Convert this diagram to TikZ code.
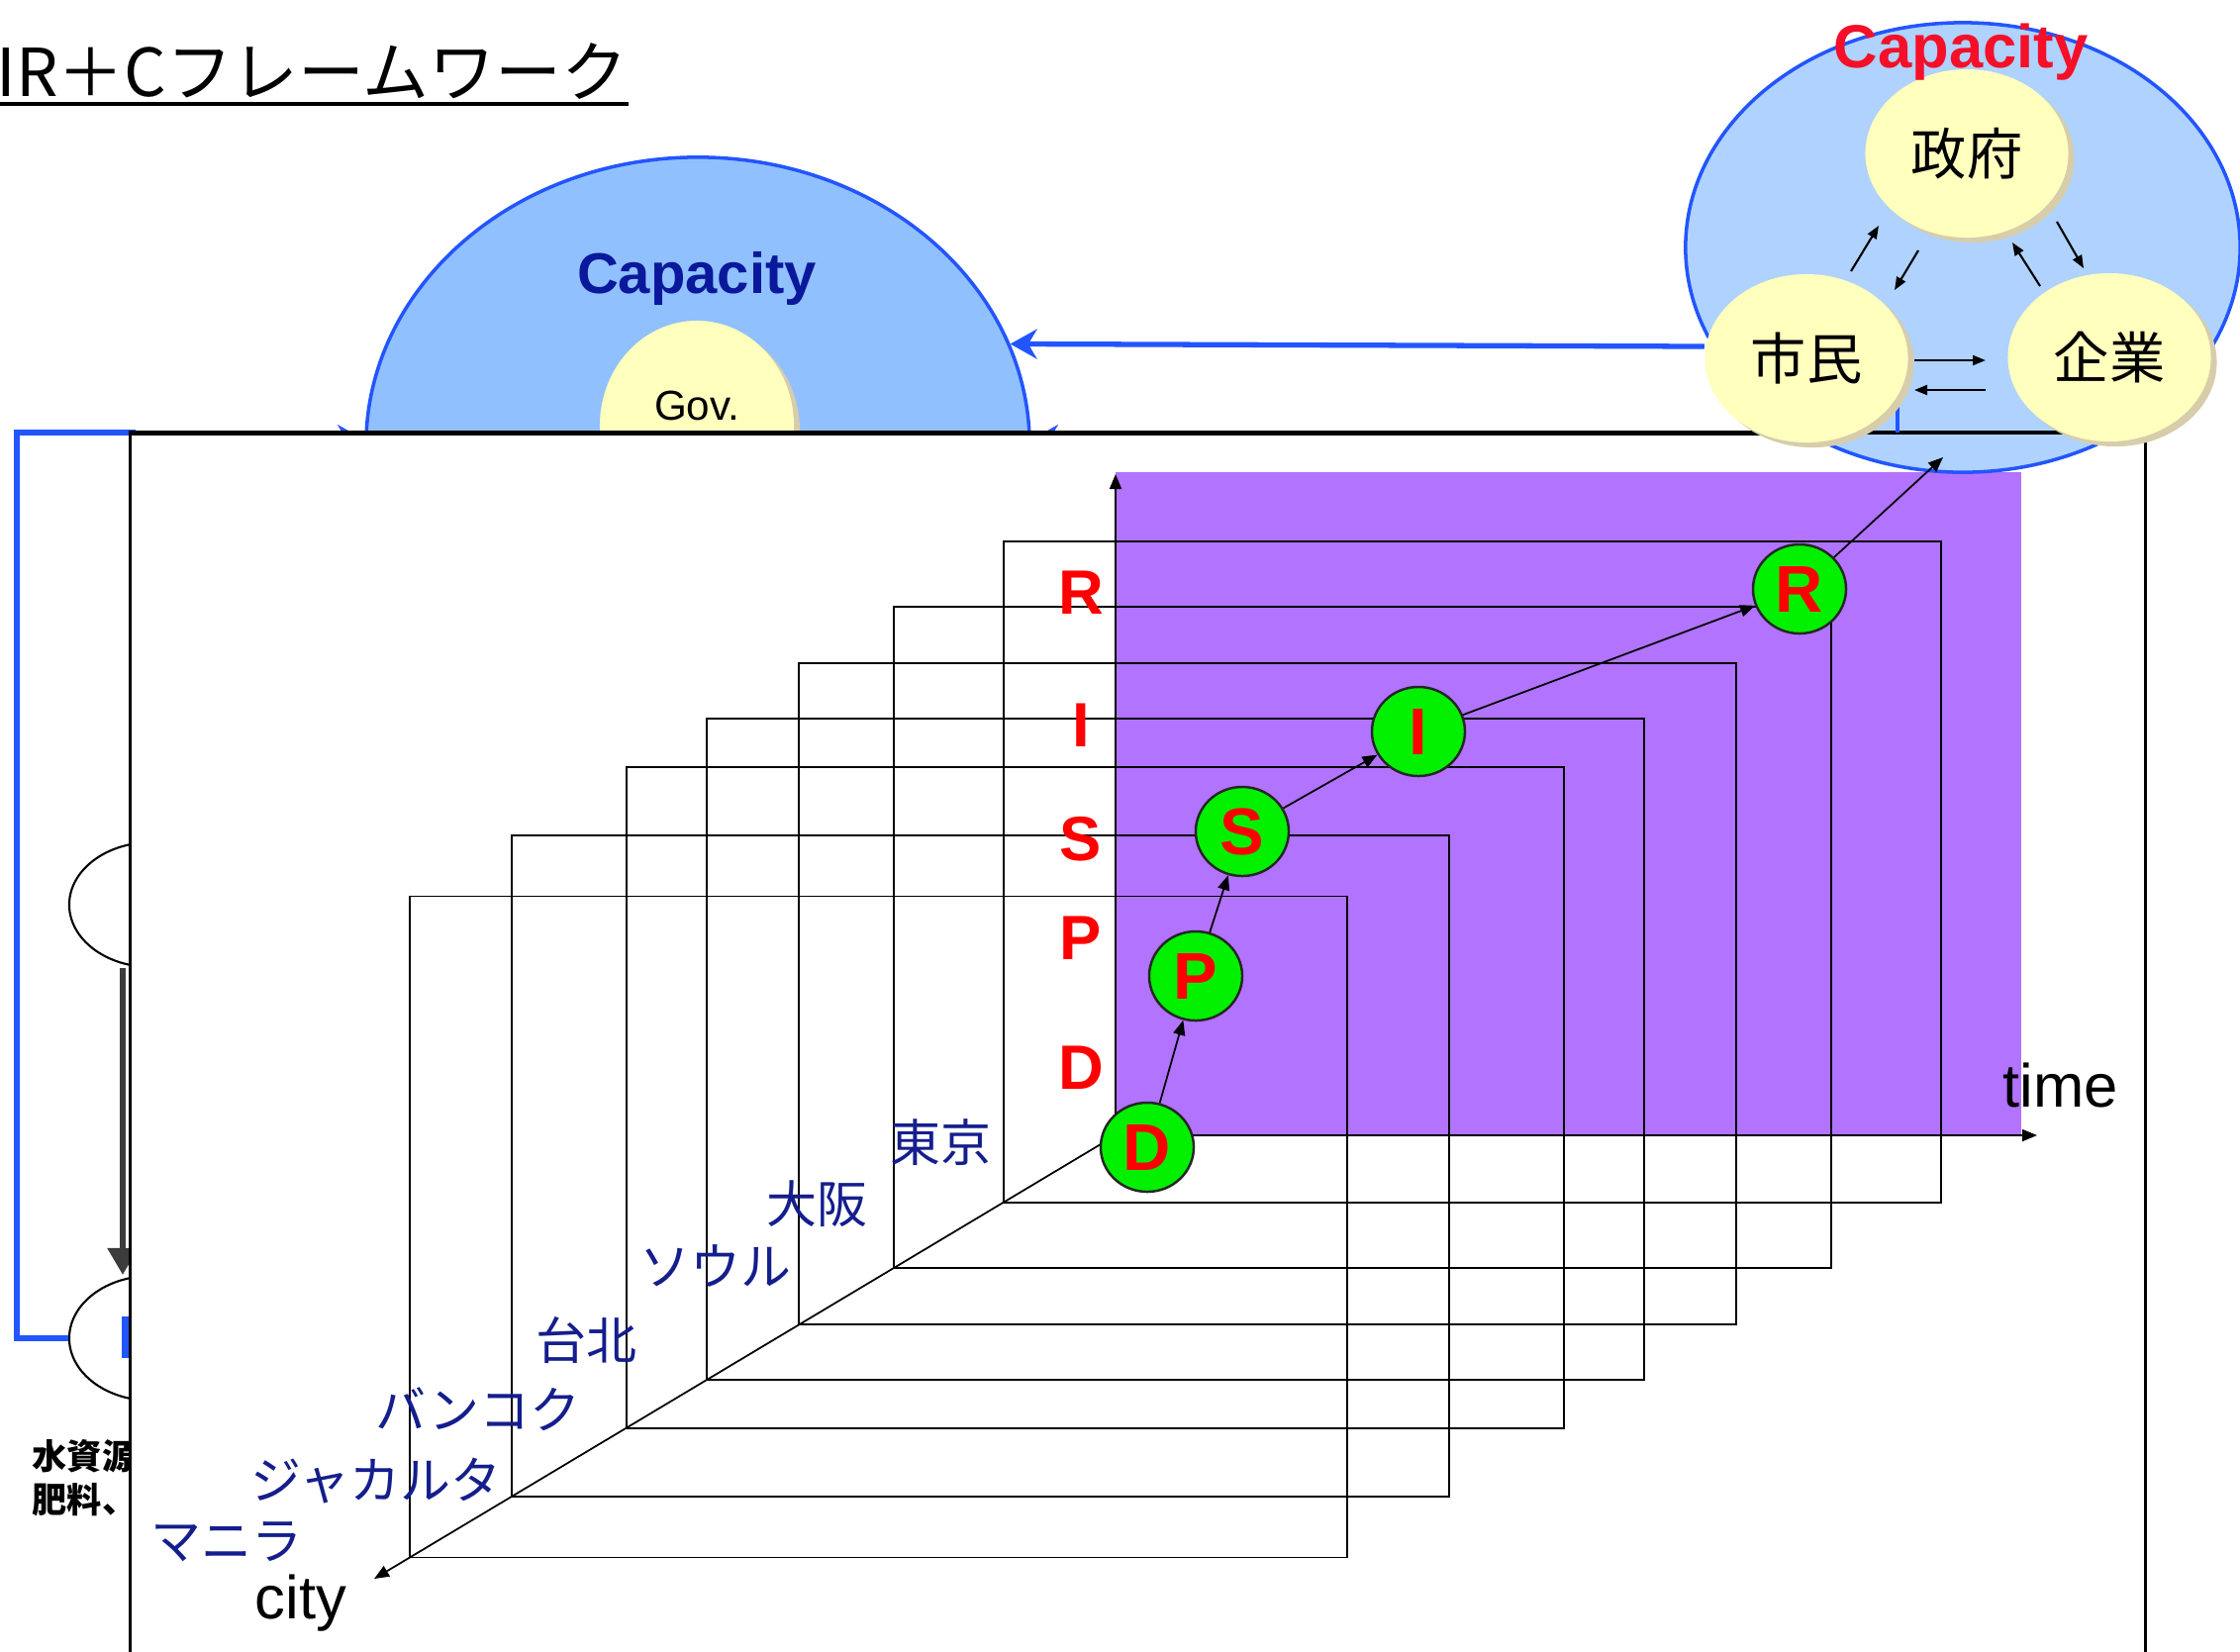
\documentclass[tikz,border=0pt]{standalone}
\usepackage{fontspec}
\setmainfont{Liberation Sans}
\newfontfamily\jp{Noto Sans CJK JP}
\usetikzlibrary{arrows.meta,shapes.geometric,calc,shadows}
\definecolor{capblue}{RGB}{35,85,255}
\definecolor{capfillL}{RGB}{145,192,255}
\definecolor{capfillR}{RGB}{175,210,255}
\definecolor{capnavy}{RGB}{10,25,155}
\definecolor{capred}{RGB}{245,15,40}
\definecolor{yel}{RGB}{255,255,190}
\definecolor{yelshade}{RGB}{215,205,170}
\definecolor{purp}{RGB}{178,115,255}
\definecolor{navy}{RGB}{20,30,140}
\definecolor{stagegreen}{RGB}{0,240,0}
\definecolor{dkgray}{RGB}{60,60,60}

\begin{document}
\begin{tikzpicture}[x=0.01cm, y=-0.01cm, every node/.style={align=center, inner sep=0pt},
  yelc/.style={ellipse, fill=yel, minimum width=2.05cm, minimum height=1.7cm,
    drop shadow={shadow xshift=0.06cm, shadow yshift=-0.05cm, fill=yelshade, opacity=1},
    font=\jp\fontsize{16pt}{18pt}\selectfont},
  stage/.style={ellipse, draw=black!85, line width=0.7pt, fill=stagegreen, minimum width=0.94cm,
    minimum height=0.9cm, text=red, font=\bfseries\fontsize{19pt}{20pt}\selectfont},
  stagelab/.style={text=red, font=\bfseries\fontsize{18pt}{20pt}\selectfont},
  citylab/.style={text=navy, font=\jp\fontsize{14.5pt}{16pt}\selectfont},
  axlab/.style={anchor=base, font=\fontsize{17.5pt}{19pt}\selectfont},
  lefttxt/.style={anchor=base west, font=\jp\bfseries\fontsize{10pt}{12pt}\selectfont},
  sideell/.style={ellipse, draw, fill=white, line width=0.6pt, minimum width=1.66cm, minimum height=1.26cm},
  cityrect/.style={line width=0.55pt},
  arr/.style={line width=0.5pt, -{Triangle[length=0.15cm, width=0.12cm]}},
  sarr/.style={line width=0.6pt, -{Triangle[length=0.13cm, width=0.1cm]}},
  heavy/.style={draw=dkgray, line width=1.5pt, -{Triangle[length=0.27cm, width=0.3cm]}},
  bluearr/.style={draw=capblue, line width=1.5pt, -{Stealth[length=0.27cm, width=0.3cm]}}]
\useasboundingbox (0,0) rectangle (2263,1668);
\fill[white] (0,0) rectangle (2263,1668);

% title
\node[anchor=base west, font=\jp\fontsize{19pt}{21pt}\selectfont] at (-4,97) (title) {IR＋Cフレームワーク};
\draw[line width=1.1pt] ([yshift=-0.08cm]title.base west) -- ([yshift=-0.08cm]title.base east);

% capacity (left, cut by the panel)
\node[ellipse, draw=capblue, fill=capfillL, line width=1pt, minimum width=6.7cm, minimum height=5.82cm] at (705,450) (capL) {};
\node[text=capnavy, anchor=base, font=\bfseries\fontsize{16.5pt}{18pt}\selectfont] at (704,296) (capLlab) {Capacity};
\node[yelc, minimum width=1.96cm, minimum height=2.12cm] at (704,430) (gov) {};
\node[anchor=base, font=\fontsize{12pt}{14pt}\selectfont] at (704,424) (govlab) {Gov.};

% left side, mostly hidden
\node[sideell] at (153,914) (lA) {};
\node[sideell] at (153,1352) (lB) {};
\draw[heavy] ([xshift=-0.29cm]lA.south) -- ([xshift=-0.29cm]lB.north);
\fill[capblue] (123,1330) rectangle (131,1372);
\draw[bluearr] (lB.west) -| (17,437) -- (134,437) |- (capL.179);
\coordinate (hidR) at (1250,444);
\draw[bluearr] (hidR) -- (capL.1);
\node[lefttxt] at (32,1484) (mizu) {水資源};
\node[lefttxt] at (32,1528) (hiryo) {肥料、};

% panel
\node[draw, fill=white, line width=0.9pt, anchor=north west, minimum width=20.35cm, minimum height=13cm] at (130,437) (panel) {};

% time plane and axes
\fill[purp] (1127,477) rectangle (2042,1147);
\coordinate (o) at (1127,1147);
\coordinate (ytip) at (1127,479);
\coordinate (ttip) at (2058,1147);
\coordinate (ctip) at (378,1595);
\foreach \t in {0.151,0.299,0.427,0.551,0.660,0.814,0.952}
  \draw[cityrect] ($(o)!\t!(ctip)$) rectangle ++(947,-668);
\draw[arr] (o) -- (ytip);
\draw[arr] (o) -- (ttip);
\draw[arr] (o) -- (ctip);

\foreach \name/\x/\y [count=\i] in {東京/950/1154, 大阪/825/1216, ソウル/723/1279, 台北/592/1354,
    バンコク/483/1424, ジャカルタ/380/1496, マニラ/229/1558}
  \node[citylab] at (\x,\y) (city\i) {\name};
\foreach \s/\y in {R/599, I/733, S/848, P/948, D/1079}
  \node[stagelab] at (1092,\y) (lab\s) {\s};

\node[stage] at (1159,1159) (sD) {D};
\node[stage] at (1208,986) (sP) {P};
\node[stage] at (1255,840) (sS) {S};
\node[stage] at (1433,739) (sI) {I};
\node[stage] at (1818,595) (sR) {R};
\draw[arr] (sD) -- (sP);
\draw[arr] (sP) -- (sS);
\draw[arr] (sS) -- (sI);
\draw[arr] (sI) -- (sR);

\node[axlab] at (2082,1118) (tlab) {time};
\node[axlab] at (304,1635) (clab) {city};

% capacity (right)
\node[ellipse, draw=capblue, fill=capfillR, line width=1pt, minimum width=5.6cm, minimum height=4.54cm] at (1983,250) (capR) {};
\draw[line width=0.9pt] (panel.north west) -- (panel.north east);
\draw[capblue, line width=1.3pt] (1917,405) -- (1917,437);
\coordinate (out) at (1963,462);
\draw[arr] (sR) -- (out);

\node[yelc] at (1987,155) (seifu) {政府};
\node[yelc] at (1825,362) (shimin) {市民};
\node[yelc] at (2131,361) (kigyo) {企業};
\node[text=capred, anchor=base, font=\bfseries\fontsize{17.5pt}{19pt}\selectfont] at (1981,68) (capRlab) {Capacity};
\draw[sarr] ($(shimin)+(45,-88)$) -- ++(28,-46);
\draw[sarr] ($(seifu)+(-49,98)$) -- ++(-24,40);
\draw[sarr] ($(seifu)+(91,69)$) -- ++(27,47);
\draw[sarr] ($(kigyo)+(-70,-72)$) -- ++(-28,-44);
\draw[sarr] ($(shimin)+(109,2)$) -- ++(72,0);
\draw[sarr] ($(kigyo)+(-125,33)$) -- ++(-72,0);
\draw[bluearr] ([yshift=0.12cm]shimin.west) -- (capL.18);
\end{tikzpicture}
\end{document}
